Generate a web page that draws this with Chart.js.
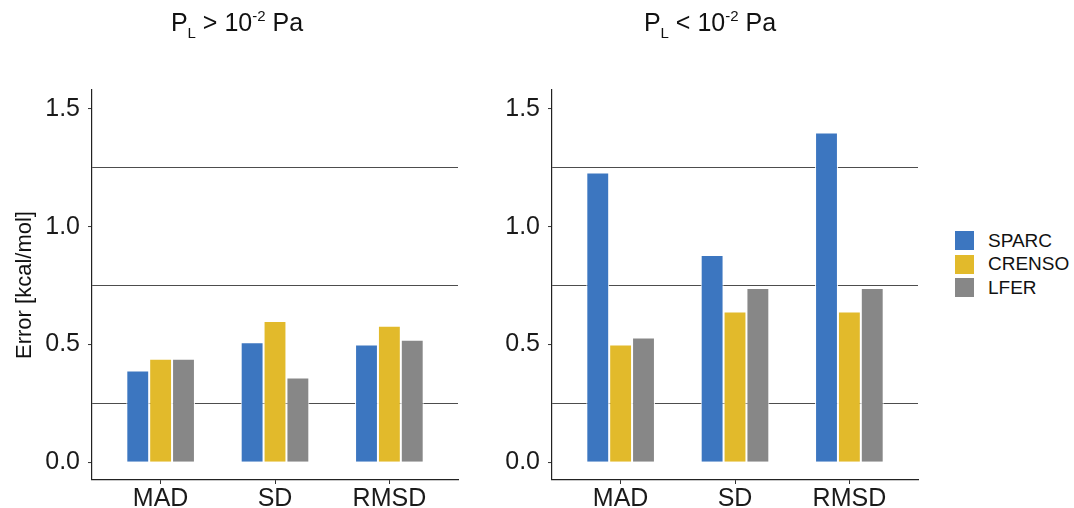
<!DOCTYPE html>
<html>
<head>
<meta charset="utf-8">
<script src="https://cdn.jsdelivr.net/npm/chart.js@4/dist/chart.umd.min.js"></script>
<style>
  body { margin: 0; background: #fff; font-family: "Liberation Sans", Arial, sans-serif; }
  #wrap { position: relative; width: 1074px; height: 508px; }
  .panel { position: absolute; top: 0; width: 470px; height: 508px; }
  .title { position: absolute; top: 7px; font-size: 25px; color: #111; white-space: nowrap; transform: translateX(-50%); }
  .title sub { font-size: 15px; vertical-align: -7px; }
  .title sup { font-size: 15px; vertical-align: 10px; }
  #legend { position: absolute; left: 955px; top: 229px; font-size: 19px; color: #111; }
  #legend div { height: 23.5px; display: flex; align-items: center; }
  #legend span { display: inline-block; width: 19px; height: 19px; margin-right: 14px; }
</style>
</head>
<body>
<div id="wrap">
  <div class="panel" style="left:0"><canvas id="left"></canvas></div>
  <div class="panel" style="left:460px"><canvas id="right"></canvas></div>
  <div class="title" style="left:237px">P<sub>L</sub> &gt; 10<sup>-2</sup> Pa</div>
  <div class="title" style="left:710px">P<sub>L</sub> &lt; 10<sup>-2</sup> Pa</div>
  <div id="legend"></div>
</div>
<script>
const categories = ['MAD', 'SD', 'RMSD'];
const seriesNames = ['SPARC', 'CRENSO', 'LFER'];
const seriesColors = ['#3c76c0', '#e2ba2b', '#878787'];

// P_L > 10^-2 Pa
const highSparc = [0.39, 0.51, 0.50];
const highCrenso = [0.44, 0.60, 0.58];
const highLfer = [0.44, 0.36, 0.52];

// P_L < 10^-2 Pa
const lowSparc = [1.23, 0.88, 1.40];
const lowCrenso = [0.50, 0.64, 0.64];
const lowLfer = [0.53, 0.74, 0.74];

const yTicks = [0, 0.25, 0.5, 0.75, 1.0, 1.25, 1.5];

const isMajor = v => Math.abs(v * 2 - Math.round(v * 2)) < 1e-6;

function makeChart(id, values, showTitle) {
  const ctx = document.getElementById(id).getContext('2d');
  return new Chart(ctx, {
    type: 'bar',
    data: {
      datasets: values.map((vals, i) => ({
        label: seriesNames[i],
        data: vals.map((v, j) => ({ x: j + 1, y: v })),
        backgroundColor: seriesColors[i],
        borderColor: '#ffffff',
        borderWidth: 1,
        categoryPercentage: 0.6,
        barPercentage: 1.0
      }))
    },
    options: {
      responsive: false,
      animation: false,
      devicePixelRatio: 1,
      layout: { padding: { top: 90, right: 12, left: 0, bottom: 0 } },
      plugins: { legend: { display: false }, tooltip: { enabled: false } },
      scales: {
        x: {
          type: 'linear',
          offset: false,
          min: 0.4,
          max: 3.6,
          afterBuildTicks: axis => { axis.ticks = categories.map((c, i) => ({ value: i + 1 })); },
          afterFit: axis => { axis.height = 28; },
          ticks: {
            callback: v => categories[v - 1],
            font: { family: 'Liberation Sans', size: 25 },
            color: '#1a1a1a',
            padding: 0
          },
          grid: { display: true, offset: false, drawOnChartArea: false, tickLength: 4, tickColor: '#333', tickWidth: 1 },
          border: { display: true, color: '#222', width: 1.2 }
        },
        y: {
          min: -0.075,
          max: 1.58,
          afterBuildTicks: axis => { axis.ticks = yTicks.map(v => ({ value: v })); },
          afterFit: axis => { axis.width = 92; },
          ticks: {
            callback: v => (isMajor(v) ? v.toFixed(1) : ''),
            font: { family: 'Liberation Sans', size: 25 },
            color: '#1a1a1a',
            padding: 8
          },
          grid: {
            drawOnChartArea: true,
            tickLength: 4,
            tickWidth: 1,
            lineWidth: 1.1,
            color: c => (isMajor(c.tick.value) ? 'rgba(0,0,0,0)' : '#4d4d4d'),
            tickColor: c => (isMajor(c.tick.value) ? '#333' : 'rgba(0,0,0,0)')
          },
          border: { display: true, color: '#222', width: 1.2 },
          title: {
            display: showTitle,
            text: 'Error [kcal/mol]',
            font: { family: 'Liberation Sans', size: 22 },
            color: '#111',
            padding: { top: 12, bottom: 0 }
          }
        }
      }
    }
  });
}

const W = 470, H = 508;
['left', 'right'].forEach(id => {
  const c = document.getElementById(id);
  c.width = W; c.height = H;
  c.style.width = W + 'px'; c.style.height = H + 'px';
});

makeChart('left', [highSparc, highCrenso, highLfer], true);
makeChart('right', [lowSparc, lowCrenso, lowLfer], false);

const legend = document.getElementById('legend');
seriesNames.forEach((name, i) => {
  const row = document.createElement('div');
  row.innerHTML = '<span style="background:' + seriesColors[i] + '"></span>' + name;
  legend.appendChild(row);
});
</script>
</body>
</html>
